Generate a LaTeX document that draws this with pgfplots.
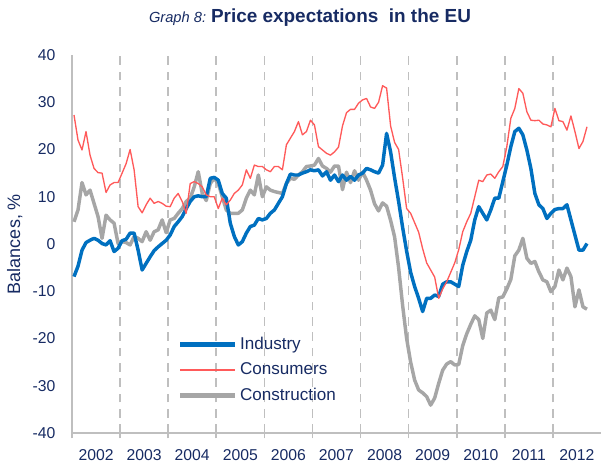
\documentclass[border=0pt]{standalone}
\usepackage{fontspec}
\setmainfont{Liberation Sans}
\usepackage{pgfplots}
\usepackage{pgfplotstable}
\pgfplotsset{compat=1.18}
\definecolor{navy}{RGB}{23,43,99}
\definecolor{indblue}{RGB}{0,112,192}
\definecolor{conred}{RGB}{255,90,90}
\definecolor{congray}{RGB}{166,166,166}
\definecolor{axgray}{RGB}{191,191,191}

\pgfplotstableread{
m ind con cons
0 -6.9 27.3 4.7
1 -4.7 22.0 7.2
2 -1.3 19.9 13.0
3 0.3 23.8 10.4
4 0.8 18.8 11.4
5 1.2 16.0 8.6
6 0.8 15.1 5.8
7 0.1 15.0 1.2
8 -0.2 10.9 6.1
9 0.7 12.5 5.1
10 -1.6 13.0 4.4
11 -0.9 13.0 0.1
12 0.7 15.0 0.5
13 1.0 17.0 0.3
14 2.3 20.0 -0.2
15 2.3 15.7 1.6
16 -1.3 7.9 1.2
17 -5.5 6.6 0.5
18 -4.1 8.3 2.6
19 -2.7 9.7 0.8
20 -1.4 8.6 2.6
21 -0.6 9.0 3.0
22 0.1 8.6 5.1
23 0.8 8.0 2.4
24 1.9 7.9 5.1
25 3.7 9.7 5.4
26 4.7 10.7 6.5
27 5.8 9.0 7.5
28 7.5 6.5 9.0
29 9.0 12.8 9.7
30 10.0 13.2 12.1
31 10.2 12.8 15.3
32 10.0 12.1 10.7
33 10.0 10.4 9.2
34 13.9 10.0 12.8
35 14.1 10.0 13.9
36 13.5 7.5 12.8
37 10.7 9.7 10.0
38 9.7 8.3 7.2
39 4.4 9.3 6.5
40 1.6 10.7 6.5
41 -0.2 11.4 6.5
42 0.5 12.5 7.2
43 2.3 15.7 9.7
44 3.7 13.9 11.4
45 4.0 16.7 10.4
46 5.4 16.4 14.6
47 5.1 16.4 10.0
48 5.4 15.7 12.1
49 6.5 15.3 11.4
50 7.2 16.4 11.1
51 8.6 16.4 10.9
52 10.0 15.7 10.7
53 12.8 21.0 12.8
54 14.8 22.4 13.9
55 14.6 23.8 13.7
56 14.6 25.9 14.6
57 15.0 23.1 15.3
58 15.3 23.8 16.4
59 15.7 26.2 16.5
60 15.5 25.2 16.7
61 15.7 20.6 18.1
62 14.4 19.9 16.5
63 15.3 19.2 16.0
64 13.5 18.8 15.2
65 14.6 19.5 16.5
66 13.2 20.5 16.5
67 14.6 25.0 11.5
68 13.5 27.8 15.2
69 14.3 28.5 13.0
70 13.5 28.5 15.5
71 14.6 29.8 13.5
72 15.0 30.5 15.2
73 16.0 30.8 13.5
74 15.7 29.0 11.4
75 15.3 28.7 8.5
76 15.0 30.0 7.0
77 16.7 33.5 8.7
78 23.4 33.0 8.0
79 19.5 25.0 5.0
80 14.0 21.5 1.5
81 9.0 20.0 -5.0
82 3.5 14.0 -13.0
83 -1.5 7.5 -20.0
84 -6.0 6.5 -25.0
85 -9.0 4.5 -28.8
86 -11.5 2.5 -30.9
87 -14.3 -1.0 -31.5
88 -11.5 -4.0 -32.3
89 -11.5 -5.5 -34.1
90 -10.8 -7.0 -32.6
91 -11.1 -11.5 -29.5
92 -8.5 -9.5 -26.7
93 -8.0 -8.0 -25.4
94 -8.0 -6.0 -24.9
95 -8.5 -4.0 -25.6
96 -9.0 -1.2 -25.5
97 -4.5 2.6 -21.5
98 -1.6 4.7 -19.0
99 0.8 6.5 -17.0
100 5.1 10.0 -15.2
101 7.9 13.5 -16.0
102 6.5 13.2 -20.0
103 5.1 14.6 -14.6
104 7.2 14.8 -14.0
105 9.7 13.9 -16.0
106 9.7 15.3 -11.4
107 13.2 16.4 -11.2
108 16.7 20.6 -9.5
109 20.6 26.6 -7.5
110 23.8 28.7 -2.5
111 24.5 32.9 -1.3
112 23.1 31.9 1.2
113 19.9 28.0 -3.0
114 16.0 26.2 -4.1
115 10.7 26.1 -3.7
116 8.3 26.2 -5.9
117 7.5 25.4 -7.6
118 5.4 25.2 -8.0
119 6.5 24.8 -10.1
120 7.3 28.7 -9.0
121 7.5 26.1 -5.5
122 7.5 25.9 -7.6
123 8.3 24.1 -5.1
124 5.1 27.1 -6.9
125 1.9 23.8 -13.3
126 -1.3 20.2 -9.7
127 -1.3 21.7 -13.3
128 0.1 24.8 -13.8
}\datatable

\begin{document}
\begin{tikzpicture}
\useasboundingbox (-54pt,-26.25pt) rectangle (396.75pt,324.75pt);
\node[text=navy, anchor=center] at (178.5pt,311.25pt) {{\fontsize{11}{12}\selectfont\itshape Graph 8:} {\fontsize{14.2}{16}\selectfont\bfseries Price expectations\ \ in the EU}};
\begin{axis}[
  at={(0pt,0pt)}, anchor=south west,
  scale only axis, width=396.75pt, height=283.5pt,
  xmin=-0.5, xmax=131.5, ymin=-40, ymax=40,
  axis x line=bottom, axis y line=left,
  axis line style={-, draw=axgray, line width=1.5pt},
  ytick={-40,-30,...,40},
  xtick={5.5,17.5,...,125.5},
  xticklabels={2002,2003,2004,2005,2006,2007,2008,2009,2010,2011,2012},
  minor xtick={-0.5,11.5,...,119.5},
  xminorgrids,
  minor grid style={axgray, dash pattern=on 6.5pt off 5pt, line width=1.2pt},
  major tick length=0pt, minor tick length=4pt, tick align=outside,
  tick style={axgray, line width=1.2pt},
  ticklabel style={font=\fontsize{11.8}{12}\selectfont, text=navy},
  xticklabel style={yshift=-9pt},
  yticklabel style={xshift=-9pt},
  /pgf/number format/assume math mode=true,
  ylabel={Balances, \%},
  ylabel style={font=\fontsize{13.5}{15}\selectfont, text=navy, at={(axis description cs:-0.108,0.5)}, anchor=center},
  legend style={at={(axis description cs:0.204,0.262)}, anchor=north west, draw=none, fill=none, font=\fontsize{12.8}{14}\selectfont, text=navy, row sep=4.6pt, column sep=2.5pt, inner sep=0pt},
  legend cell align=left,
]
\addlegendimage{legend image code/.code={\fill[indblue] (0pt,-1.3pt) rectangle (40pt,1.3pt);}}
\addlegendentry{Industry}
\addlegendimage{legend image code/.code={\fill[conred] (0pt,-0.6pt) rectangle (40pt,0.6pt);}}
\addlegendentry{Consumers}
\addlegendimage{legend image code/.code={\fill[congray] (0pt,-1.3pt) rectangle (40pt,1.3pt);}}
\addlegendentry{Construction}
\addplot[draw=congray, line width=2.6pt, line join=round, forget plot] table[x=m, y=cons] {\datatable};
\addplot[draw=indblue, line width=2.6pt, line join=round, forget plot] table[x=m, y=ind] {\datatable};
\addplot[draw=conred, line width=1pt, line join=round, forget plot] table[x=m, y=con] {\datatable};
\end{axis}
\end{tikzpicture}
\end{document}
